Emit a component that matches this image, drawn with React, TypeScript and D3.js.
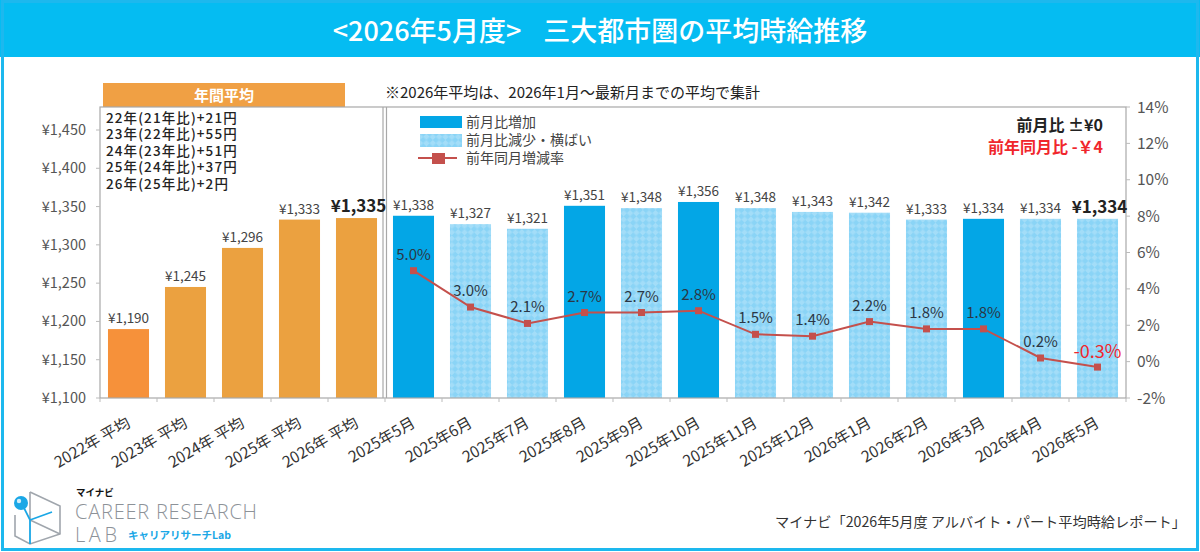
import React from 'react';
import * as d3 from 'd3';

// ---- data ----
const categories = [
  '2022年 平均', '2023年 平均', '2024年 平均', '2025年 平均', '2026年 平均',
  '2025年5月', '2025年6月', '2025年7月', '2025年8月', '2025年9月', '2025年10月',
  '2025年11月', '2025年12月', '2026年1月', '2026年2月', '2026年3月', '2026年4月', '2026年5月',
];
const wages = [1190, 1245, 1296, 1333, 1335, 1338, 1327, 1321, 1351, 1348, 1356, 1348, 1343, 1342, 1333, 1334, 1334, 1334];
// annual = yearly average, up = rise vs. previous month, flat = fall or unchanged
const barKinds = ['annual0', 'annual', 'annual', 'annual', 'annual', 'up', 'flat', 'flat', 'up', 'flat', 'up', 'flat', 'flat', 'flat', 'flat', 'up', 'flat', 'flat'];
const yoyMonths = categories.slice(5);
const yoyRates = [5.0, 3.0, 2.1, 2.7, 2.7, 2.8, 1.5, 1.4, 2.2, 1.8, 1.8, 0.2, -0.3];
const wageTicks = [1100, 1150, 1200, 1250, 1300, 1350, 1400, 1450];
const rateTicks = [-2, 0, 2, 4, 6, 8, 10, 12, 14];
const emphasized = ['2026年 平均', '2026年5月'];
const annualNotes = [
  '22年(21年比)+21円',
  '23年(22年比)+55円',
  '24年(23年比)+51円',
  '25年(24年比)+37円',
  '26年(25年比)+2円',
];

const FONT = "'Noto Sans CJK JP', 'Noto Sans', sans-serif";
const FRAME = '#1DB8EE';
const BLUE = '#03A6E6';
const LIGHT = '#8AD4F6';
const ORANGE = '#EBA140';
const ORANGE0 = '#F6913A';
const LINE = '#C4504C';

const W = 1200;
const H = 552;
const plot = { left: 100, right: 1126, top: 107, bottom: 398 };

export default function App() {
  const x = d3.scaleBand<string>().domain(categories).range([plot.left, plot.right]).paddingInner(0.28).paddingOuter(0.14);
  const yL = d3.scaleLinear().domain([1100, 1450]).range([plot.bottom, 130]);
  const yR = d3.scaleLinear().domain([-2, 14]).range([plot.bottom, plot.top]);
  const cx = (c: string) => (x(c) ?? 0) + x.bandwidth() / 2;

  const linePath = d3.line<number>()
    .x((_, i) => cx(yoyMonths[i]))
    .y((d) => yR(d))(yoyRates) ?? '';

  const sepX = plot.left + x.step() * 5;
  const fillFor = (k: string) => (k === 'annual0' ? ORANGE0 : k === 'annual' ? ORANGE : k === 'up' ? BLUE : 'url(#lightPat)');

  return (
    <svg width={W} height={H} style={{ position: 'absolute', left: 0, top: 0, background: '#fff' }} fontFamily={FONT}>
      <defs>
        <pattern id="lightPat" width="9" height="9" patternUnits="userSpaceOnUse" patternTransform="rotate(45)">
          <rect width="9" height="9" fill={LIGHT} />
          <rect width="4.5" height="4.5" fill="#A3DDF8" />
          <rect x="4.5" y="4.5" width="4.5" height="4.5" fill="#A3DDF8" />
        </pattern>
      </defs>

      {/* title band and outer frame */}
      <rect x={0} y={0} width={W} height={57} fill="#05BCF2" />
      <rect x={2.5} y={1.5} width={W - 5} height={H - 4} fill="none" stroke={FRAME} strokeWidth={3} />
      <text x={600} y={41} textAnchor="middle" fill="#fff" fontSize={27} fontWeight={500}>
        <tspan>{'<2026年5月度>'}</tspan>
        <tspan dx={22}>三大都市圏の平均時給推移</tspan>
      </text>

      {/* annual header */}
      <rect x={103} y={83} width={242} height={24} fill="#F0A044" />
      <text x={224} y={101} textAnchor="middle" fill="#fff" fontSize={15} fontWeight={700}>年間平均</text>
      <text x={385} y={98} fill="#222" fontSize={15}>※2026年平均は、2026年1月～最新月までの平均で集計</text>

      {/* bars */}
      {categories.map((c, i) => (
        <rect key={c} x={x(c)} y={yL(wages[i])} width={x.bandwidth()} height={plot.bottom - yL(wages[i])} fill={fillFor(barKinds[i])} />
      ))}

      {/* plot frame and separators */}
      <rect x={plot.left} y={plot.top} width={plot.right - plot.left} height={plot.bottom - plot.top} fill="none" stroke="#A8A8A8" strokeWidth={1.2} />
      <line x1={sepX - 2} x2={sepX - 2} y1={plot.top} y2={plot.bottom} stroke="#A8A8A8" strokeWidth={1.2} />
      <line x1={sepX + 1.5} x2={sepX + 1.5} y1={plot.top} y2={plot.bottom} stroke="#A8A8A8" strokeWidth={1.2} />

      {/* left axis */}
      {wageTicks.map((t) => (
        <g key={t}>
          <line x1={plot.left - 4} x2={plot.left} y1={yL(t)} y2={yL(t)} stroke="#BBB" />
          <text x={86} y={yL(t) + 5} textAnchor="end" fill="#555" fontSize={14.5}>{`¥${d3.format(',')(t)}`}</text>
        </g>
      ))}
      {/* right axis */}
      {rateTicks.map((t) => (
        <g key={t}>
          <line x1={plot.right} x2={plot.right + 4} y1={yR(t)} y2={yR(t)} stroke="#BBB" />
          <text x={1137} y={yR(t) + 5.5} fill="#555" fontSize={15.5}>{`${t}%`}</text>
        </g>
      ))}
      {/* bottom ticks */}
      {d3.range(categories.length + 1).map((i) => (
        <line key={i} x1={plot.left + i * x.step()} x2={plot.left + i * x.step()} y1={plot.bottom} y2={plot.bottom + 4} stroke="#BBB" />
      ))}
      {/* category labels */}
      {categories.map((c) => (
        <text key={c} transform={`translate(${cx(c) + 3},${426}) rotate(-30)`} textAnchor="end" fill="#333" fontSize={15.5}>{c}</text>
      ))}

      {/* wage labels */}
      {categories.map((c, i) => {
        const big = emphasized.includes(c);
        return (
          <text key={c} x={cx(c) + (big ? 2 : 0)} y={yL(wages[i]) - 6} textAnchor="middle" fill={big ? '#222' : '#444'}
            fontSize={big ? 17 : 13.5} fontWeight={big ? 700 : 400}>
            {`¥${d3.format(',')(wages[i])}`}
          </text>
        );
      })}

      {/* year-on-year line */}
      <path d={linePath} fill="none" stroke={LINE} strokeWidth={2} />
      {yoyRates.map((r, i) => (
        <rect key={i} x={cx(yoyMonths[i]) - 3.5} y={yR(r) - 3.5} width={7} height={7} fill={LINE} />
      ))}
      {yoyRates.map((r, i) => {
        const neg = r < 0;
        return (
          <text key={i} x={cx(yoyMonths[i])} y={yR(r) - (neg ? 9 : 11)} textAnchor="middle" fill={neg ? '#F0262C' : '#2B3745'}
            fontSize={neg ? 18 : 15}>
            {`${r.toFixed(1)}%`}
          </text>
        );
      })}

      {/* annual notes, one block of lines */}
      <text x={106} y={122.5} fill="#222" fontSize={13.5} fontWeight={500} letterSpacing={1.1}>
        {annualNotes.map((n, i) => (
          <tspan key={n} x={106} dy={i === 0 ? 0 : 16.5}>{n}</tspan>
        ))}
      </text>

      {/* legend */}
      <rect x={420} y={116} width={42} height={12} fill={BLUE} />
      <text x={466} y={126.5} fill="#444" fontSize={14}>前月比増加</text>
      <rect x={420} y={134} width={42} height={13} fill="url(#lightPat)" />
      <text x={466} y={145} fill="#444" fontSize={14}>前月比減少・横ばい</text>
      <line x1={418} x2={457} y1={158} y2={158} stroke={LINE} strokeWidth={2} />
      <rect x={432} y={153} width={13} height={11} fill={LINE} />
      <text x={466} y={163} fill="#444" fontSize={14}>前年同月増減率</text>

      {/* latest-month notes */}
      <text x={1103} y={131} textAnchor="end" fill="#222" fontSize={16} fontWeight={700}>前月比 ±¥0</text>
      <text x={1103} y={153} textAnchor="end" fill="#F0262C" fontSize={16} fontWeight={700}>前年同月比 -￥4</text>

      {/* footer */}
      <text x={1186} y={527} textAnchor="end" fill="#333" fontSize={14.2}>マイナビ「2026年5月度 アルバイト・パート平均時給レポート」</text>

      {/* logo */}
      <g>
        <path d="M30 492 L60 506 L60 534 L30 544 L15 536 L15 515" fill="none" stroke="#A0A6AD" strokeWidth={1.6} />
        <path d="M30 492 L30 520 L60 534" fill="none" stroke="#A0A6AD" strokeWidth={1.6} />
        <path d="M22 504 L30 520 L52 512 M30 520 L30 544" fill="none" stroke="#1AA7E6" strokeWidth={1.8} />
        <circle cx={21} cy={503} r={7} fill="#1AA7E6" />
        <circle cx={19} cy={501} r={2.2} fill="#fff" opacity={0.8} />
        <text x={76} y={496} fill="#111" fontSize={9.5} fontWeight={700}>マイナビ</text>
        <text x={75} y={519} fill="#8D9298" fontSize={20} fontWeight={300} textLength={182} fontFamily="'Open Sans', sans-serif">CAREER RESEARCH</text>
        <text x={75} y={542} fill="#8D9298" fontSize={20} fontWeight={300} textLength={42} fontFamily="'Open Sans', sans-serif">LAB</text>
        <text x={128} y={539} fill="#1AA7E6" fontSize={10.5} fontWeight={700}>キャリアリサーチLab</text>
      </g>
    </svg>
  );
}
